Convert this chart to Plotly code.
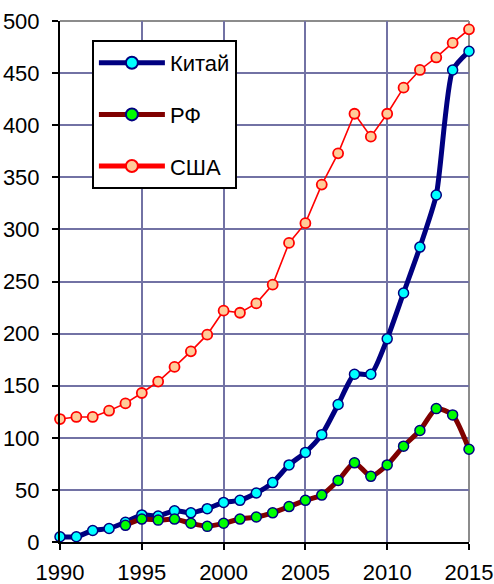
import plotly.graph_objects as go

years = list(range(1990, 2016))

china = [5, 5, 11, 13, 19, 26, 25, 30, 28, 32, 38, 40, 47, 57, 74, 86, 103,
         132, 161, 161, 195, 239, 283, 333, 453, 471]
russia_years = list(range(1994, 2016))
russia = [16, 22, 21, 22, 18, 15, 18, 22, 24, 28, 34, 40, 45, 59, 76, 63, 74,
          92, 107, 128, 122, 89]
usa = [118, 120, 120, 126, 133, 143, 154, 168, 183, 199, 222, 220, 229, 247,
       287, 306, 343, 373, 411, 389, 411, 436, 453, 465, 479, 492]

names = ["Китай", "РФ", "США"]
x_ticks = [1990, 1995, 2000, 2005, 2010, 2015]
y_ticks = list(range(0, 501, 50))

FONT = "Liberation Sans, Arial, sans-serif"
GRID = "#7272A4"

fig = go.Figure()

fig.add_trace(go.Scatter(
    x=years, y=china, name=names[0], mode="lines+markers",
    line=dict(color="#000080", width=5, shape="spline", smoothing=0.6),
    marker=dict(size=10, color="#00FFFF", line=dict(color="#000080", width=1.5)),
    cliponaxis=False, legendgroup="a",
))
fig.add_trace(go.Scatter(
    x=russia_years, y=russia, name=names[1], mode="lines+markers",
    line=dict(color="#800000", width=5, shape="spline", smoothing=0.6),
    marker=dict(size=10, color="#00FF00", line=dict(color="#000080", width=1.5)),
    cliponaxis=False, legendgroup="b",
))
fig.add_trace(go.Scatter(
    x=years, y=usa, name=names[2], mode="lines+markers",
    line=dict(color="#FF0000", width=1.6),
    marker=dict(size=10, color="#FFCC99", line=dict(color="#FF0000", width=1.8)),
    cliponaxis=False, legendgroup="c",
))

fig.update_layout(
    width=494, height=584,
    margin=dict(l=60, r=25, t=21, b=42),
    paper_bgcolor="white", plot_bgcolor="white",
    font=dict(family=FONT, size=22, color="black"),
    showlegend=True,
    legend=dict(
        x=0.078, y=0.9635, xanchor="left", yanchor="top",
        bgcolor="white", bordercolor="black", borderwidth=2,
        font=dict(family=FONT, size=22, color="black"),
        tracegroupgap=20, itemsizing="constant", itemwidth=66,
        entrywidth=90,
    ),
    xaxis=dict(
        range=[1990, 2015], tickvals=x_ticks, ticktext=[str(v) for v in x_ticks],
        showgrid=True, gridcolor=GRID, gridwidth=1.8,
        showline=True, linecolor="black", linewidth=2,
        ticks="outside", ticklen=6, tickwidth=2, tickcolor="black",
        ticklabelstandoff=4, automargin=False,
        mirror=False, zeroline=False, fixedrange=True,
    ),
    yaxis=dict(
        range=[0, 500], tickvals=y_ticks,
        showgrid=True, gridcolor=GRID, gridwidth=1.8,
        showline=True, linecolor="black", linewidth=2,
        ticks="outside", ticklen=6, tickwidth=2, tickcolor="black",
        ticklabelstandoff=8, automargin=False,
        zeroline=False, fixedrange=True,
    ),
)

# gray frame on the top and right edges of the plot area
fig.add_shape(type="line", xref="paper", yref="paper", x0=0, x1=1, y0=1, y1=1,
              line=dict(color="#8C8C8C", width=2), layer="below")
fig.add_shape(type="line", xref="paper", yref="paper", x0=1, x1=1, y0=0, y1=1,
              line=dict(color="#8C8C8C", width=2), layer="below")

fig.write_html("out.html")
